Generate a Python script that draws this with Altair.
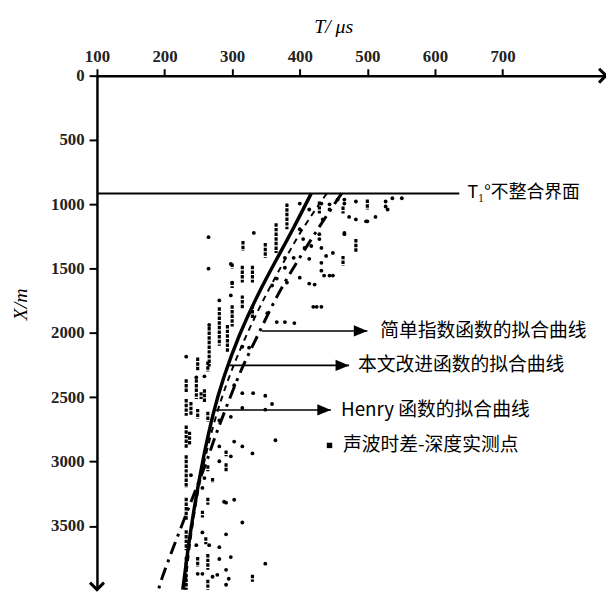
import altair as alt
import pandas as pd

# ---------------- axis ticks / extents ----------------
x_ticks = [100, 200, 300, 400, 500, 600, 700]
y_ticks = [0, 500, 1000, 1500, 2000, 2500, 3000, 3500]
x_max = 853
y_max = 3995

# ---------------- measured points (T in us, depth X in m) ----------------
dot_T = [265, 265, 332, 298, 300, 400, 414, 444, 444, 483, 473, 483, 500, 434, 400, 405, 429, 429, 466,
         378, 391, 407, 417, 432, 439, 449, 378, 400, 381, 366, 359, 414, 422, 436, 449, 420, 432, 281,
         298, 352, 366, 378, 392, 266, 325, 315, 232, 247, 259,
         537, 551, 527, 527, 466, 466, 456, 432, 530, 512, 498, 466, 432, 414, 432, 444, 425,
         303, 315, 331, 349, 359, 315, 349, 281, 298, 364, 303, 281, 315, 298, 330, 281, 259, 239, 256,
         291, 303, 288, 315, 256, 291, 247, 266, 281, 281, 298, 349, 249, 256, 271, 278, 291, 295, 291]
dot_depth = [1255, 1500, 1222, 1463, 1608, 994, 1040, 1000, 1040, 978, 1098, 1117, 1132, 1117, 1194, 1270,
             1232, 1270, 1232, 1416, 1416, 1339, 1324, 1339, 1401, 1378, 1493, 1570, 1608, 1577, 1631, 1616,
             1624, 1554, 1554, 1797, 1797, 1747, 1708, 1846, 1915, 1915, 1923, 1938, 2114, 2107, 2184, 2345,
             2337,
             953, 953, 978, 1017, 963, 994, 963, 994, 1040, 1098, 1132, 1222, 1455, 1424, 1516, 1554, 1797,
             2406, 2468, 2468, 2488, 2552, 2583, 2596, 2680, 2652, 2834, 2844, 2882, 2882, 2959, 2936, 2997,
             3128, 3105, 3204, 3319, 3296, 3312, 3473, 3550, 3565, 3649, 3649, 3665, 3757, 3742, 3793, 3872,
             3872, 3895, 3880, 3841, 3910, 3957]

# stacked columns of measured points (same T over a depth interval)
col_T = [316, 315, 330, 349, 365, 381, 429, 464, 500, 483, 464,
         300, 300, 300, 315, 330, 281, 293, 266, 249, 264,
         232, 232, 232, 232, 232, 232, 232, 232,
         247, 249, 259, 264, 239, 237, 254, 291, 291, 264, 271, 264, 256, 261, 249, 264, 330, 264]
col_top = [1286, 1478, 1478, 1301, 1147, 994, 978, 1017, 963, 1270, 1401,
           1460, 1600, 1785, 1708, 1785, 1800, 1938, 1953, 2191, 2222,
           2360, 2514, 2720, 2950, 3281, 3534, 3742, 3872,
           2360, 2590, 2437, 2613, 2537, 2767, 2460, 2913, 3012, 3028, 3128, 3281, 3381, 3588, 3742, 3718,
           3880, 3918]
col_bottom = [1363, 1608, 1608, 1416, 1378, 1194, 1071, 1071, 1040, 1378, 1478,
              1500, 1650, 1950, 1807, 1884, 2100, 2145, 2260, 2299, 2299,
              2460, 2644, 2897, 3204, 3457, 3688, 3818, 3995,
              2514, 2667, 2537, 2690, 2644, 2874, 2514, 2959, 3074, 3074, 3166, 3335, 3435, 3642, 3818, 3841,
              3933, 3995]

# ---------------- fitted curves ----------------
improved_depth = [915, 1194, 1424, 1708, 2015, 2345, 2613, 2997, 3380, 3700, 3995]
improved_T = [417, 390, 366, 337, 310, 287, 272, 256, 243, 234, 227]
simple_depth = [915, 1171, 1455, 1708, 2030, 2260, 2514, 2798, 2975, 3100, 3380, 3665, 3918, 3995]
simple_T = [462, 429, 395, 366, 337, 315, 296, 275, 264, 255, 234, 213, 195, 191]
henry_depth = [915, 1200, 1450, 1700, 2000, 2300, 2600, 2900, 3200, 3600, 3995]
henry_T = [440, 402, 376, 350, 322, 298, 278, 263, 250, 238, 230]

# ---------------- annotations ----------------
unconf_depth = 915
unconf_T_end = 636
unconf_label = "T₁°不整合界面"
unconf_label_T = 648

ann_text = ["简单指数函数的拟合曲线", "本文改进函数的拟合曲线", "Henry 函数的拟合曲线"]
ann_start_T = [344, 296, 274]
ann_tip_T = [500, 473, 446]
ann_depth = [1984, 2252, 2598]
ann_text_T = [519, 486, 461]

legend_T = [444]
legend_text_T = [464]
legend_depth = [2874]
legend_text = ["声波时差-深度实测点"]

# ---------------- scales / axes ----------------
xs = alt.Scale(domain=[100, x_max], nice=False, zero=False)
ys = alt.Scale(domain=[0, y_max], reverse=True, nice=False, zero=False)

xaxis = alt.Axis(orient="top", values=x_ticks, title="T/ μs", grid=False, format="d",
                 domainColor="black", domainWidth=2.5, tickColor="black", tickWidth=2, tickSize=7,
                 labelFont="Liberation Serif", labelFontSize=17, labelFontWeight="bold",
                 labelColor="#222", labelPadding=3, labelOverlap=False, labelFlush=False,
                 labelBound=False,
                 titleFont="Liberation Serif", titleFontSize=20, titleFontStyle="italic",
                 titleFontWeight="normal", titleColor="black",
                 titleX=239, titleY=-50, titleAlign="center", titleBaseline="middle")
yaxis = alt.Axis(orient="left", values=y_ticks, title="X/m", grid=False, format="d",
                 domainColor="black", domainWidth=2.5, tickColor="black", tickWidth=2, tickSize=8,
                 labelFont="Liberation Serif", labelFontSize=17, labelFontWeight="bold",
                 labelColor="#222", labelPadding=5, labelOverlap=False, labelFlush=False,
                 labelBound=False,
                 titleFont="Liberation Serif", titleFontSize=20, titleFontStyle="italic",
                 titleFontWeight="normal", titleColor="black",
                 titleX=-77, titleY=231, titleAlign="center", titleBaseline="middle")


def X(field):
    return alt.X(field, type="quantitative", scale=xs, axis=xaxis, title="T/ μs")


def Y(field):
    return alt.Y(field, type="quantitative", scale=ys, axis=yaxis, title="X/m")


dots_df = pd.DataFrame({"T": dot_T, "depth": dot_depth})
cols_df = pd.DataFrame({"T": col_T, "depth": col_top, "depth2": col_bottom})

curves = []
for name, d, t in [("improved", improved_depth, improved_T),
                   ("simple", simple_depth, simple_T),
                   ("henry", henry_depth, henry_T)]:
    curves.append(pd.DataFrame({"curve": name, "depth": d, "T": t}))

base = alt.Chart(pd.DataFrame({"T": [100], "depth": [0]})).mark_point(opacity=0).encode(
    x=X("T"), y=Y("depth"))

dots = alt.Chart(dots_df).mark_circle(size=15, color="black", opacity=1).encode(x=X("T"), y=Y("depth"))
cols = alt.Chart(cols_df).mark_rule(color="black", strokeWidth=3.2, strokeDash=[3.5, 1.2]).encode(
    x=X("T"), y=Y("depth"), y2="depth2")

solid = alt.Chart(curves[0]).mark_line(color="black", strokeWidth=3.5, interpolate="basis").encode(
    x=X("T"), y=Y("depth"), order="depth:Q")
simple = alt.Chart(curves[1]).mark_line(color="black", strokeWidth=3, interpolate="basis",
                                        strokeDash=[13, 6, 3, 6]).encode(
    x=X("T"), y=Y("depth"), order="depth:Q")
henry = alt.Chart(curves[2]).mark_line(color="black", strokeWidth=2, interpolate="basis",
                                       strokeDash=[6, 5]).encode(
    x=X("T"), y=Y("depth"), order="depth:Q")

unconf_df = pd.DataFrame({"T": [100], "T2": [unconf_T_end], "depth": [unconf_depth],
                          "label": [unconf_label], "LT": [unconf_label_T]})
unconf = alt.Chart(unconf_df).mark_rule(color="black", strokeWidth=2).encode(
    x=X("T"), x2="T2", y=Y("depth"))
unconf_txt = alt.Chart(unconf_df).mark_text(align="left", baseline="middle", font="Noto Sans CJK SC",
                                             fontSize=18, color="black").encode(
    x=X("LT"), y=Y("depth"), text="label")

ann_df = pd.DataFrame({"T": ann_start_T, "T2": ann_tip_T, "depth": ann_depth,
                       "label": ann_text, "LT": ann_text_T})
ann_lines = alt.Chart(ann_df).mark_rule(color="black", strokeWidth=1.6).encode(
    x=X("T"), x2="T2", y=Y("depth"))
ann_heads = alt.Chart(ann_df).mark_point(shape="M-2.4,-1L0,0L-2.4,1Z", size=130, filled=True,
                                         color="black", opacity=1).encode(
    x=X("T2"), y=Y("depth"))
ann_txt = alt.Chart(ann_df).mark_text(align="left", baseline="middle", font="Noto Sans CJK SC",
                                      fontSize=19, color="black").encode(
    x=X("LT"), y=Y("depth"), text="label")

leg_df = pd.DataFrame({"T": legend_T, "LT": legend_text_T, "depth": legend_depth, "label": legend_text})
leg_sq = alt.Chart(leg_df).mark_square(size=30, color="black", opacity=1).encode(x=X("T"), y=Y("depth"))
leg_txt = alt.Chart(leg_df).mark_text(align="left", baseline="middle", font="Noto Sans CJK SC",
                                      fontSize=19, color="black").encode(
    x=X("LT"), y=Y("depth"), text="label")

arrow_df = pd.DataFrame({"T": [x_max, 100], "depth": [0, y_max]})
x_arrow = alt.Chart(arrow_df.iloc[[0]]).mark_point(shape="M-1,-1L0,0L-1,1", size=200, filled=False,
                                                   strokeWidth=3, color="black", opacity=1).encode(
    x=X("T"), y=Y("depth"))
y_arrow = alt.Chart(arrow_df.iloc[[1]]).mark_point(shape="M-1,-1L0,0L1,-1", size=200, filled=False,
                                                   strokeWidth=3, color="black", opacity=1).encode(
    x=X("T"), y=Y("depth"))

chart = alt.layer(base, cols, dots, henry, simple, solid, unconf, unconf_txt,
                  ann_lines, ann_heads, ann_txt, leg_sq, leg_txt, x_arrow, y_arrow).properties(
    width=515, height=520,
    autosize=alt.AutoSizeParams(type="none"),
    padding={"left": 90, "top": 65, "right": 0, "bottom": 6},
    background="white",
).configure_view(stroke=None)

chart.save("out.html", embed_options={"renderer": "svg", "actions": False})
